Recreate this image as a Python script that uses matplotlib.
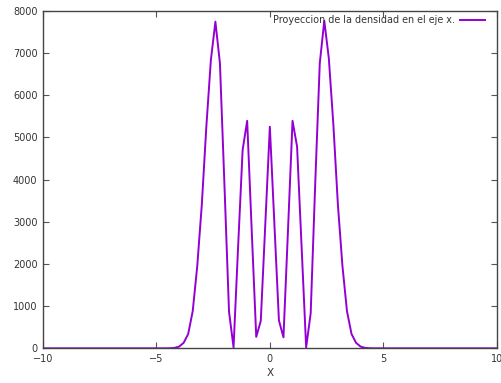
import numpy as np
import matplotlib
matplotlib.use("Agg")
import matplotlib.pyplot as plt

# ───────────────────────────────────────────────────────────────
# 1. DATA (grid step 0.2)
# ───────────────────────────────────────────────────────────────
x_left_zero = [-10.0, -4.6]          # flat tail to the left
x_right_zero = [4.6, 10.0]           # flat tail to the right

x_vals = [-4.4, -4.2, -4.0, -3.8, -3.6, -3.4, -3.2, -3.0, -2.8, -2.6,
          -2.4, -2.2, -2.0, -1.8, -1.6, -1.4, -1.2, -1.0, -0.8, -0.6,
          -0.4, -0.2, 0.0, 0.2, 0.4, 0.6, 0.8, 1.0, 1.2, 1.4,
          1.6, 1.8, 2.0, 2.2, 2.4, 2.6, 2.8, 3.0, 3.2, 3.4,
          3.6, 3.8, 4.0, 4.2, 4.4]
densidad = [2, 10, 40, 130, 340, 880, 1950, 3400, 5250, 6830,
            7740, 6750, 3850, 870, 20, 2400, 4700, 5390, 2800, 270,
            650, 2950, 5250, 2950, 660, 260, 2800, 5390, 4780, 2400,
            20, 830, 3900, 6750, 7760, 6870, 5300, 3400, 1950, 880,
            340, 130, 40, 10, 2]

x_ticks = [-10, -5, 0, 5, 10]
y_ticks = [0, 1000, 2000, 3000, 4000, 5000, 6000, 7000, 8000]
legend_label = "Proyeccion de la densidad en el eje x."

xs = np.array(x_left_zero + x_vals + x_right_zero)
ys = np.array([0, 0] + densidad + [0, 0])

# ───────────────────────────────────────────────────────────────
# 2. FIGURE (gnuplot look)
# ───────────────────────────────────────────────────────────────
plt.rcParams['font.family'] = ['DejaVu Sans']
fig = plt.figure(figsize=(5.01, 3.83), dpi=100)
ax = fig.add_axes([43 / 501, 1 - 348.3 / 383, (496.7 - 43) / 501, (348.3 - 10.7) / 383])

ax.plot(xs, ys, color="#9400d3", linewidth=1.4, label=legend_label)

ax.set_xlim(-10, 10)
ax.set_ylim(0, 8000)
ax.set_xticks(x_ticks)
ax.set_yticks(y_ticks)
ax.tick_params(direction='in', top=True, right=True, length=4, width=0.8,
               labelsize=7, labelcolor='#333333', color='#555555', pad=4)
for sp in ax.spines.values():
    sp.set_color('#444444')
    sp.set_linewidth(1.0)

ax.set_xlabel("X", fontsize=7.5, color='#333333', labelpad=3)

ax.legend(loc='upper right', bbox_to_anchor=(0.992, 1.01), frameon=False,
          markerfirst=False, fontsize=6.9, handlelength=2.6, handletextpad=0.6,
          borderaxespad=0.4, labelcolor='#333333')

plt.savefig("out.png", dpi=100)
